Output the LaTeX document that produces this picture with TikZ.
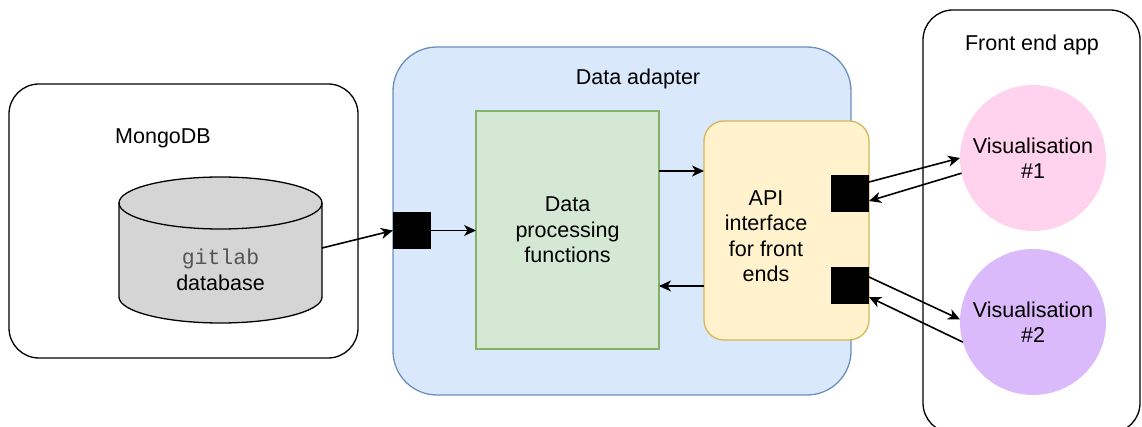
\documentclass[tikz,border=0pt]{standalone}
\usepackage{fontspec}
\setmainfont{Liberation Sans}
\setmonofont{Liberation Mono}
\usetikzlibrary{arrows.meta,calc}

\definecolor{adapterfill}{HTML}{DAE8FC}
\definecolor{adapterline}{HTML}{6C8EBF}
\definecolor{procfill}{HTML}{D5E8D4}
\definecolor{procline}{HTML}{82B366}
\definecolor{apifill}{HTML}{FFF2CC}
\definecolor{apiline}{HTML}{D6B656}
\definecolor{visone}{HTML}{FFD2EE}
\definecolor{vistwo}{HTML}{DBBAFB}
\definecolor{dbfill}{HTML}{D5D5D5}
\definecolor{monogray}{HTML}{555555}

\tikzset{
  every node/.style={font=\fontsize{21.5}{25.5}\selectfont, inner sep=0pt, outer sep=0pt},
  box/.style={draw, line width=1.3pt, anchor=north west},
  port/.style={fill=black, minimum width=38pt, minimum height=37pt},
  vis/.style={circle, minimum size=146pt, align=center},
  link/.style={line width=1.6pt, -{Stealth[length=12pt,width=11pt,inset=3.5pt]}},
  label/.style={align=center}
}

\begin{document}
\begin{tikzpicture}[x=1pt,y=-1pt]
  \useasboundingbox (0,0) rectangle (1142,427);

  % outer containers
  \node[box, rounded corners=30pt, minimum width=349pt, minimum height=274pt] (mongo) at (9,84) {};
  \node[box, draw=adapterline, fill=adapterfill, rounded corners=44pt, minimum width=458pt, minimum height=348pt] (adapter) at (393,47) {};
  \node[box, rounded corners=30pt, minimum width=217pt, minimum height=423pt] (front) at (923,10) {};

  % container titles
  \node[label] (mongotitle) at (163,138) {MongoDB};
  \node[label] (adaptertitle) at (638,79) {Data adapter};
  \node[label] (fronttitle) at (1032,45) {Front end app};

  % database cylinder
  \filldraw[fill=dbfill, line width=1.3pt]
    (119,203) -- (119,297) arc[start angle=180, end angle=0, x radius=101.5, y radius=26]
    -- (322,203) arc[start angle=0, end angle=-180, x radius=101.5, y radius=26] -- cycle;
  \draw[line width=1.3pt] (119,203) arc[start angle=180, end angle=0, x radius=101.5, y radius=26];
  \node[label] (dbtext) at (220.5,270) {{\ttfamily\color{monogray}gitlab}\\database};
  \coordinate (dbout) at (322,248);

  % inner boxes
  \node[box, draw=procline, fill=procfill, minimum width=183pt, minimum height=238pt] (proc) at (476,111) {};
  \node[label] at (proc.center) {Data\\processing\\functions};
  \node[box, draw=apiline, fill=apifill, rounded corners=20pt, minimum width=165pt, minimum height=219pt] (api) at (704,121) {};
  \node[label] at (766,236) {API\\interface\\for front\\ends};

  % ports
  \node[port] (inport) at (412,230.5) {};
  \node[port] (portone) at (850,194) {};
  \node[port] (porttwo) at (850,285.5) {};

  % visualisations
  \node[vis, fill=visone] (visa) at (1033,158) {Visualisation\\\#1};
  \node[vis, fill=vistwo] (visb) at (1033,322) {Visualisation\\\#2};

  % data flow
  \draw[link] (dbout) -- (inport.west);
  \draw[link] (inport.east) -- (inport.east -| proc.west);
  \coordinate (procout) at ($(proc.east)+(0,-59)$);
  \draw[link] (procout) -- (procout -| api.west);
  \coordinate (apiout) at ($(api.west)+(0,55.5)$);
  \draw[link] (apiout) -- (apiout -| proc.east);

  \draw[link] ($(portone.east)+(0,-12)$) -- (visa.west);
  \draw[link] (visa.192) -- ($(portone.east)+(0,7)$);
  \draw[link] ($(porttwo.east)+(0,-8.5)$) -- (visb.178);
  \draw[link] (visb.196) -- ($(porttwo.east)+(0,11.5)$);
\end{tikzpicture}
\end{document}
